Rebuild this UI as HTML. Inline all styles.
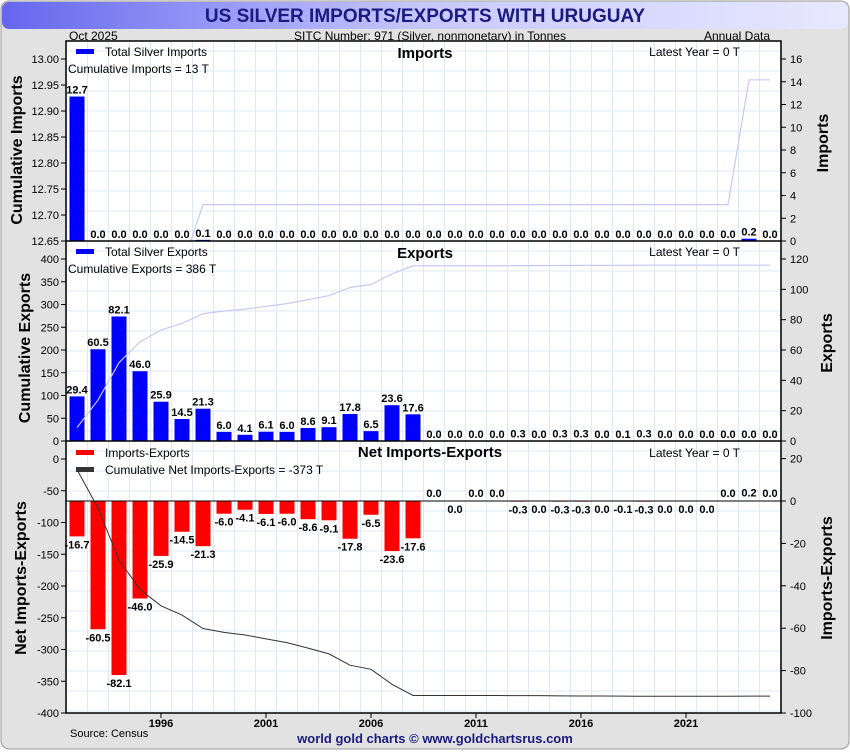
<!DOCTYPE html>
<html><head><meta charset="utf-8"><style>
body{margin:0;background:#fff;font-family:"Liberation Sans",sans-serif}
svg text{font-family:"Liberation Sans",sans-serif}
</style></head><body>
<svg width="850" height="750" xmlns="http://www.w3.org/2000/svg" id="c">
<defs><linearGradient id="tg" x1="0" x2="1"><stop offset="0" stop-color="#6666ee"/><stop offset="0.5" stop-color="#c8c8ff"/><stop offset="1" stop-color="#e8e8ff"/></linearGradient>
<clipPath id="cp1"><rect x="66" y="41" width="715" height="200"/></clipPath>
<clipPath id="cp2"><rect x="66" y="241" width="715" height="200"/></clipPath>
<clipPath id="cp3"><rect x="66" y="441" width="715" height="272"/></clipPath></defs>
<rect x="1" y="1" width="848" height="748" rx="8" fill="#e2e2e2" stroke="#999"/>
<rect x="2" y="2" width="846" height="27" rx="7" fill="url(#tg)"/>
<text x="425" y="22" text-anchor="middle" font-size="19" font-weight="bold" fill="#1a1a80">US SILVER IMPORTS/EXPORTS WITH URUGUAY</text>
<text x="69" y="40" font-size="12">Oct  2025</text>
<text x="430" y="40" font-size="12" text-anchor="middle">SITC Number: 971 (Silver, nonmonetary) in Tonnes</text>
<text x="770" y="40" font-size="12" text-anchor="end">Annual Data</text>
<rect x="66" y="41" width="715" height="672" fill="#fff"/>
<g id="grid"></g><g id="marks"></g>
<rect x="66" y="41" width="715" height="672" fill="none" stroke="#000" stroke-width="1.5"/>
<line x1="66" y1="241" x2="781" y2="241" stroke="#000" stroke-width="1.5"/>
<line x1="66" y1="441" x2="781" y2="441" stroke="#000" stroke-width="1.5"/>
<text x="70" y="737" font-size="11">Source: Census</text>
<text x="435" y="743" font-size="13" font-weight="bold" fill="#1a1a80" text-anchor="middle">world gold charts © www.goldchartsrus.com</text>
</svg>
<script>
const years=[];for(let y=1992;y<=2025;y++)years.push(y);
const imports=[12.7,0,0,0,0,0,0.1,0,0,0,0,0,0,0,0,0,0,0,0,0,0,0,0,0,0,0,0,0,0,0,0,0,0.2,0];
const exportsV=[29.4,60.5,82.1,46.0,25.9,14.5,21.3,6.0,4.1,6.1,6.0,8.6,9.1,17.8,6.5,23.6,17.6,0,0,0,0,0.3,0,0.3,0.3,0,0.1,0.3,0,0,0,0,0,0];
const netValues=[-16.7,-60.5,-82.1,-46.0,-25.9,-14.5,-21.3,-6.0,-4.1,-6.1,-6.0,-8.6,-9.1,-17.8,-6.5,-23.6,-17.6,0,0,0,0,-0.3,0,-0.3,-0.3,0,-0.1,-0.3,0,0,0,0,0.2,0];
const netLabelAbove=[0,0,0,0,0,0,0,0,0,0,0,0,0,0,0,0,0,1,0,1,1,0,0,0,0,0,0,0,0,0,0,1,1,1];
const cumImportsLine=[12.6,12.6,12.6,12.6,12.6,12.6,12.72,12.72,12.72,12.72,12.72,12.72,12.72,12.72,12.72,12.72,12.72,12.72,12.72,12.72,12.72,12.72,12.72,12.72,12.72,12.72,12.72,12.72,12.72,12.72,12.72,12.72,12.96,12.96];
const impLeftTicks=[12.65,12.70,12.75,12.80,12.85,12.90,12.95,13.00];
const impRightTicks=[0,2,4,6,8,10,12,14,16];
const expLeftTicks=[0,50,100,150,200,250,300,350,400];
const expRightTicks=[0,20,40,60,80,100,120];
const netLeftTicks=[0,-50,-100,-150,-200,-250,-300,-350,-400];
const netRightTicks=[20,0,-20,-40,-60,-80,-100];
const xLabels=[1996,2001,2006,2011,2016,2021];
const NS="http://www.w3.org/2000/svg";
const svg=document.getElementById('c'),G=document.getElementById('grid'),M=document.getElementById('marks');
function el(t,a,p){const e=document.createElementNS(NS,t);for(const k in a)e.setAttribute(k,a[k]);(p||M).appendChild(e);return e;}
const x=y=>77+(y-1992)*21;
const lin=(d0,d1,p0,p1)=>v=>p0+(v-d0)*(p1-p0)/(d1-d0);
const yImpL=lin(12.65,13.0,241,59),yImpR=lin(0,16,241,59);
const yExpL=lin(0,400,441,259),yExpR=lin(0,120,441,259);
const yNetL=lin(0,-400,459,713),yNetR=lin(0,-100,501,713);
for(let yy=1991.5;yy<=2026;yy++){const gx=x(yy);if(gx>66&&gx<781){el('line',{x1:gx,y1:41,x2:gx,y2:713,stroke:'#dde9f3'},G);}}
for(let gy=51;gy<713;gy+=20){el('line',{x1:66,y1:gy,x2:781,y2:gy,stroke:'#dde9f3'},G);}
function ticks(arr,f,side,dec,name){arr.forEach(v=>{const py=f(v);
 el('line',{x1:side=='L'?61:781,y1:py,x2:side=='L'?66:786,y2:py,stroke:'#000'});
 const t=el('text',{x:side=='L'?59:790,y:py+4,'font-size':11,'text-anchor':side=='L'?'end':'start'});t.textContent=v.toFixed(dec);
 
 });}
ticks(impLeftTicks,yImpL,'L',2,'imports-left-tick');ticks(impRightTicks,yImpR,'R',0,'imports-right-tick');
ticks(expLeftTicks,yExpL,'L',0,'exports-left-tick');ticks(expRightTicks,yExpR,'R',0,'exports-right-tick');
ticks(netLeftTicks,yNetL,'L',0,'net-left-tick');ticks(netRightTicks,yNetR,'R',0,'net-right-tick');
xLabels.forEach(v=>{el('line',{x1:x(v),y1:713,x2:x(v),y2:718,stroke:'#000'});const t=el('text',{x:x(v),y:727,'font-size':11,'font-weight':'bold','text-anchor':'middle'});t.textContent=v;
 
 });
function lab(tx,ty,s,name){const t=el('text',{x:tx,y:ty,'font-size':11,'font-weight':'bold','text-anchor':'middle'});t.textContent=s;
 
 }
years.forEach((yr,i)=>{const v=imports[i],top=yImpR(v);
 const r=el('rect',{x:x(yr)-7.5,y:top,width:15,height:241-top,fill:'#0000ff'});
 
 
 lab(x(yr),top-3,v.toFixed(1),'import-value-label');});
el('polyline',{points:years.map((yr,i)=>x(yr)+','+yImpL(cumImportsLine[i])).join(' '),fill:'none',stroke:'#c8c8f8','stroke-width':1.2,'clip-path':'url(#cp1)'});
let cum=0;const cumE=[];
years.forEach((yr,i)=>{const v=exportsV[i],top=yExpR(v);cum+=v;cumE.push(cum);
 const r=el('rect',{x:x(yr)-7.5,y:top,width:15,height:441-top,fill:'#0000ff'});
 
 
 lab(x(yr),top-3,v.toFixed(1),'export-value-label');});
el('polyline',{points:years.map((yr,i)=>x(yr)+','+yExpL(cumE[i])).join(' '),fill:'none',stroke:'#c8c8f8','stroke-width':1.2,'clip-path':'url(#cp2)'});
let cn=0;const cumN=[];
years.forEach((yr,i)=>{const v=netValues[i];cn+=v;cumN.push(cn);
 const y0=yNetR(0),yv=yNetR(v);
 const r=el('rect',{x:x(yr)-7.5,y:Math.min(y0,yv),width:15,height:Math.abs(yv-y0),fill:'#ff0000'});
 
 
 lab(x(yr),netLabelAbove[i]?Math.min(y0,yv)-4:yv+12,(v===0?0:v).toFixed(1),'net-value-label');});
el('line',{x1:66,y1:yNetR(0),x2:781,y2:yNetR(0),stroke:'#000'});
el('polyline',{points:years.map((yr,i)=>x(yr)+','+yNetL(cumN[i])).join(' '),fill:'none',stroke:'#333','stroke-width':1,'clip-path':'url(#cp3)'});
function txt(tx,ty,s,o,name){const t=el('text',Object.assign({x:tx,y:ty,'font-size':12},o||{}));t.textContent=s;
 
 }
function sw(sx,sy,c,name){const r=el('rect',{x:sx,y:sy,width:18,height:5,fill:c});
 
 }
sw(76,49,'#0000ff','legend-imports-swatch');txt(105,56,'Total Silver Imports',{},'legend-imports');
txt(68,73,'Cumulative Imports = 13 T',{},'cumulative-imports-label');
txt(425,58,'Imports',{'font-size':15,'font-weight':'bold','text-anchor':'middle'},'imports-panel-title');
txt(740,56,'Latest Year = 0 T',{'text-anchor':'end'},'imports-latest');
sw(76,249,'#0000ff','legend-exports-swatch');txt(105,256,'Total Silver Exports',{},'legend-exports');
txt(68,273,'Cumulative Exports = 386 T',{},'cumulative-exports-label');
txt(425,258,'Exports',{'font-size':15,'font-weight':'bold','text-anchor':'middle'},'exports-panel-title');
txt(740,256,'Latest Year = 0 T',{'text-anchor':'end'},'exports-latest');
sw(76,450,'#ff0000','legend-net-swatch');txt(105,457,'Imports-Exports',{},'legend-net');
sw(76,467,'#333','legend-cumnet-swatch');txt(105,474,'Cumulative Net Imports-Exports = -373 T',{},'legend-cumulative-net');
txt(430,457,'Net Imports-Exports',{'font-size':15,'font-weight':'bold','text-anchor':'middle'},'net-panel-title');
txt(740,457,'Latest Year = 0 T',{'text-anchor':'end'},'net-latest');
function vt(tx,ty,s,name){const t=el('text',{x:tx,y:ty,'font-size':16,'font-weight':'bold','text-anchor':'middle',transform:'rotate(-90 '+tx+' '+ty+')'});t.textContent=s;
 
 }
vt(22,150,'Cumulative Imports','y-axis-title-cum-imports');vt(828,143,'Imports','y-axis-title-imports');
vt(30,348,'Cumulative Exports','y-axis-title-cum-exports');vt(832,343,'Exports','y-axis-title-exports');
vt(26,578,'Net Imports-Exports','y-axis-title-net-cum');vt(832,578,'Imports-Exports','y-axis-title-net');
</script>
</body></html>
